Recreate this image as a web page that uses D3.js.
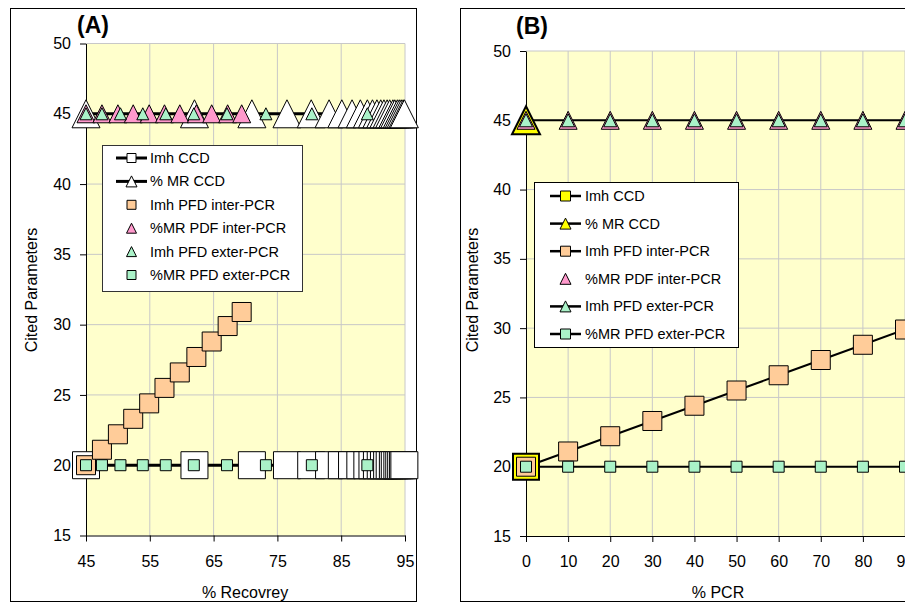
<!DOCTYPE html>
<html>
<head>
<meta charset="utf-8">
<script src="https://cdn.jsdelivr.net/npm/d3@7"></script>
<style>
  body { margin: 0; background: #fff; }
  svg { display: block; font-family: "Liberation Sans", Arial, sans-serif; }
</style>
</head>
<body>
<div class="canvas"></div>
<script>
// ---- data ----
// panel A : x = % recovery
var ccdRecovery = [45, 62, 71, 76.5, 80.3, 83.1, 85.1, 86.7, 88, 89.1, 89.9, 90.6, 91.2, 91.7, 92.2, 92.6, 93.1, 93.4, 93.8, 94.1, 94.4, 94.7, 94.9];
var ccdImh      = [20, 20, 20, 20, 20, 20, 20, 20, 20, 20, 20, 20, 20, 20, 20, 20, 20, 20, 20, 20, 20, 20, 20];
var ccdMR       = [45, 45, 45, 45, 45, 45, 45, 45, 45, 45, 45, 45, 45, 45, 45, 45, 45, 45, 45, 45, 45, 45, 45];
var interRecovery = [45, 47.5, 50, 52.4, 54.9, 57.3, 59.7, 62.3, 64.7, 67.2, 69.4];
var interImhA     = [20, 21.1, 22.2, 23.3, 24.4, 25.5, 26.6, 27.7, 28.8, 29.9, 30.9];
var interMRA      = [45, 45, 45, 45, 45, 45, 45, 45, 45, 45, 45];
var exterRecovery = [45, 47.5, 50.4, 53.9, 57.5, 61.9, 67.1, 73.2, 80.4, 89.1];
var exterImhA     = [45, 45, 45, 45, 45, 45, 45, 45, 45, 45];
var exterMRA      = [20, 20, 20, 20, 20, 20, 20, 20, 20, 20];

// panel B : x = % PCR
var pcr        = [0, 10, 20, 30, 40, 50, 60, 70, 80, 90];
var ccdImhB    = [20];
var ccdMRB     = [45];
var interImhB  = [20, 21.1, 22.2, 23.3, 24.4, 25.5, 26.6, 27.7, 28.8, 29.9];
var interMRB   = [45, 45, 45, 45, 45, 45, 45, 45, 45, 45];
var exterImhB  = [45, 45, 45, 45, 45, 45, 45, 45, 45, 45];
var exterMRB   = [20, 20, 20, 20, 20, 20, 20, 20, 20, 20];

var seriesNames = ["Imh CCD", "% MR CCD", "Imh PFD inter-PCR", "%MR PDF inter-PCR", "Imh PFD exter-PCR", "%MR PFD exter-PCR"];
var xTicksA = [45, 55, 65, 75, 85, 95];
var xTicksB = [0, 10, 20, 30, 40, 50, 60, 70, 80, 90];
var yTicks  = [15, 20, 25, 30, 35, 40, 45, 50];

var orange = "#FFCC99", pink = "#FF99CC", green = "#AAF2C8", yellow = "#FFFF00";

var width = 905, height = 604;
var svg = d3.select(".canvas").append("svg")
  .attr("width", width).attr("height", height);

// marker path: square or triangle, size = width of the box
function shapePath(shape, s) {
  var h = s / 2;
  if (shape == "square") return "M" + (-h) + "," + (-h) + "h" + s + "v" + s + "h" + (-s) + "Z";
  return "M0," + (-h) + "L" + h + "," + h + "L" + (-h) + "," + h + "Z";
}

function zip(xs, ys) {
  return xs.map(function(x, i) { return [x, ys[i]]; });
}

function drawLine(g, xsc, ysc, pts, w) {
  g.append("path")
    .datum(pts)
    .attr("d", d3.line().x(function(d) { return xsc(d[0]); }).y(function(d) { return ysc(d[1]); }))
    .attr("fill", "none").attr("stroke", "#000").attr("stroke-width", w);
}

function drawMarkers(g, xsc, ysc, pts, shape, size, fill, sw) {
  g.append("g").selectAll("path")
    .data(pts).enter()
    .append("path")
    .attr("d", shapePath(shape, size))
    .attr("transform", function(d) { return "translate(" + xsc(d[0]) + "," + ysc(d[1]) + ")"; })
    .attr("fill", fill).attr("stroke", "#000").attr("stroke-width", sw || 1);
}

function drawFrame(p) {
  // outer box
  svg.append("rect").attr("x", p.box[0]).attr("y", p.box[1])
    .attr("width", p.box[2]).attr("height", p.box[3])
    .attr("fill", "#fff").attr("stroke", "#000").attr("stroke-width", 1);

  var x0 = p.x.range()[0], x1 = p.x.range()[1];
  var y0 = p.y.range()[0], y1 = p.y.range()[1];
  svg.append("rect").attr("x", x0).attr("y", y1)
    .attr("width", x1 - x0).attr("height", y0 - y1).attr("fill", "#FFFFCC");

  // grid
  svg.append("g").selectAll("line").data(p.xTicks.slice(1)).enter()
    .append("line")
    .attr("x1", function(d) { return p.x(d); }).attr("x2", function(d) { return p.x(d); })
    .attr("y1", y1).attr("y2", y0)
    .attr("stroke", "#c8c8c8").attr("stroke-width", 1);
  svg.append("g").selectAll("line").data(yTicks.slice(1)).enter()
    .append("line")
    .attr("y1", function(d) { return p.y(d); }).attr("y2", function(d) { return p.y(d); })
    .attr("x1", x0).attr("x2", x1)
    .attr("stroke", "#c8c8c8").attr("stroke-width", 1);

  // axes
  var ax = svg.append("g").attr("transform", "translate(0," + y0 + ")")
    .call(d3.axisBottom(p.x).tickValues(p.xTicks).tickSize(6).tickSizeOuter(0).tickPadding(14));
  var ay = svg.append("g").attr("transform", "translate(" + x0 + ",0)")
    .call(d3.axisLeft(p.y).tickValues(yTicks).tickSize(6).tickSizeOuter(0).tickPadding(9));
  [ax, ay].forEach(function(a) {
    a.selectAll("path,line").attr("stroke", "#000");
    a.selectAll("text").attr("font-size", 16).attr("font-family", null).attr("fill", "#000");
  });

  // titles
  svg.append("text").text(p.title).attr("x", p.titlePos[0]).attr("y", p.titlePos[1])
    .attr("font-size", 23).attr("font-weight", "bold");
  svg.append("text").text("Cited Parameters")
    .attr("transform", "translate(" + p.yLabelX + ",290) rotate(-90)")
    .attr("text-anchor", "middle").attr("font-size", 16);
  svg.append("text").text(p.xLabel)
    .attr("x", p.xLabelX).attr("y", 598)
    .attr("text-anchor", "middle").attr("font-size", 16);
}

function drawLegend(lg) {
  var g = svg.append("g");
  g.append("rect").attr("x", lg.box[0]).attr("y", lg.box[1])
    .attr("width", lg.box[2]).attr("height", lg.box[3])
    .attr("fill", "#fff").attr("stroke", lg.border).attr("stroke-width", 1);
  lg.items.forEach(function(it, i) {
    var cy = lg.rowY + i * lg.step;
    if (it.line) {
      g.append("line").attr("x1", lg.lineX[0]).attr("x2", lg.lineX[1])
        .attr("y1", cy).attr("y2", cy).attr("stroke", "#000").attr("stroke-width", lg.lineW);
    }
    var mx = (lg.lineX[0] + lg.lineX[1]) / 2;
    g.append("path").attr("d", shapePath(it.shape, it.size))
      .attr("transform", "translate(" + mx + "," + cy + ")")
      .attr("fill", it.fill).attr("stroke", "#000").attr("stroke-width", 1);
    g.append("text").text(seriesNames[i]).attr("x", lg.textX).attr("y", cy + 5)
      .attr("font-size", 14.5);
  });
}

// ================= panel A =================
var pA = {
  box: [10.5, 8.5, 406, 593],
  x: d3.scaleLinear().domain([45, 95]).range([86, 405]),
  y: d3.scaleLinear().domain([15, 50]).range([535.5, 43.5]),
  xTicks: xTicksA, title: "(A)", titlePos: [77, 33],
  yLabelX: 37, xLabel: "% Recovrey", xLabelX: 245
};
drawFrame(pA);
var gA = svg.append("g");
drawLine(gA, pA.x, pA.y, zip(ccdRecovery, ccdImh), 3);
drawLine(gA, pA.x, pA.y, zip(ccdRecovery, ccdMR), 3);
drawMarkers(gA, pA.x, pA.y, zip(ccdRecovery, ccdImh), "square", 27, "#fff");
drawMarkers(gA, pA.x, pA.y, zip(ccdRecovery, ccdMR), "triangle", 28, "#fff");
drawMarkers(gA, pA.x, pA.y, zip(interRecovery, interImhA), "square", 19, orange);
drawMarkers(gA, pA.x, pA.y, zip(interRecovery, interMRA), "triangle", 18, pink);
drawMarkers(gA, pA.x, pA.y, zip(exterRecovery, exterImhA), "triangle", 12, green);
drawMarkers(gA, pA.x, pA.y, zip(exterRecovery, exterMRA), "square", 11, green);

drawLegend({
  box: [102.5, 145.5, 200, 146], border: "#333", rowY: 158, step: 23.4,
  lineX: [116, 147], lineW: 3, textX: 150,
  items: [
    { line: true, shape: "square", size: 9, fill: "#fff" },
    { line: true, shape: "triangle", size: 11, fill: "#fff" },
    { line: false, shape: "square", size: 9, fill: orange },
    { line: false, shape: "triangle", size: 10, fill: pink },
    { line: false, shape: "triangle", size: 10, fill: green },
    { line: false, shape: "square", size: 9, fill: green }
  ]
});

// ================= panel B =================
var pB = {
  box: [460.5, 8.5, 500, 593],
  x: d3.scaleLinear().domain([0, 90]).range([526, 905]),
  y: d3.scaleLinear().domain([15, 50]).range([536, 51]),
  xTicks: xTicksB, title: "(B)", titlePos: [516, 34],
  yLabelX: 478, xLabel: "% PCR", xLabelX: 718
};
drawFrame(pB);
var gB = svg.append("g");
drawLine(gB, pB.x, pB.y, zip(pcr, interImhB), 2);
drawLine(gB, pB.x, pB.y, zip(pcr, exterImhB), 2);
drawLine(gB, pB.x, pB.y, zip(pcr, exterMRB), 2);
drawMarkers(gB, pB.x, pB.y, zip([0], ccdImhB), "square", 26, yellow, 2);
drawMarkers(gB, pB.x, pB.y, zip([0], ccdMRB), "triangle", 28, yellow, 2);
drawMarkers(gB, pB.x, pB.y, zip(pcr, interImhB), "square", 19, orange);
drawMarkers(gB, pB.x, pB.y, zip(pcr, interMRB), "triangle", 18, pink);
drawMarkers(gB, pB.x, pB.y, zip(pcr, exterImhB), "triangle", 13, green);
drawMarkers(gB, pB.x, pB.y, zip(pcr, exterMRB), "square", 11, green);

drawLegend({
  box: [534.5, 182.5, 204, 165], border: "#000", rowY: 196, step: 27.6,
  lineX: [550, 581], lineW: 2.5, textX: 585,
  items: [
    { line: true, shape: "square", size: 10, fill: yellow },
    { line: true, shape: "triangle", size: 11, fill: yellow },
    { line: true, shape: "square", size: 10, fill: orange },
    { line: false, shape: "triangle", size: 11, fill: pink },
    { line: true, shape: "triangle", size: 11, fill: green },
    { line: true, shape: "square", size: 10, fill: green }
  ]
});
</script>
</body>
</html>
